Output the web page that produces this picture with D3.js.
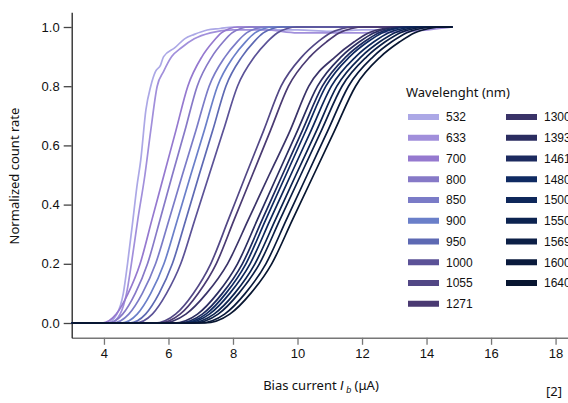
<!DOCTYPE html>
<html>
<head>
<meta charset="utf-8">
<script src="https://cdn.jsdelivr.net/npm/d3@7"></script>
<style>
  body { margin: 0; background: #fff; }
  svg { display: block; }
</style>
</head>
<body>
<div id="chart"></div>
<script>
// wavelengths (nm) and their line colours
const wavelengths = [532, 633, 700, 800, 850, 900, 950, 1000, 1055, 1271,
                     1300, 1393, 1461, 1480, 1500, 1550, 1569, 1600, 1640]
const colors = ['#aca8e6', '#a18fdb', '#9579cf', '#8679c7', '#7a7bc7', '#6a7fc9', '#5d69b3', '#5b5297', '#524785', '#4a3a72',
                '#3a3368', '#2b2d60', '#1c2a5f', '#0f2a62', '#0e275a', '#0c2350', '#0c1f46', '#0a1a3c', '#081631']

// normalized count rate levels, and the bias current (uA) where each curve reaches them
const levels = [0, 0.03, 0.1, 0.2, 0.35, 0.5, 0.65, 0.8, 0.9, 0.95, 0.98, 0.995, 1]
const x700  = [3.94, 4.38, 4.75, 5.12, 5.49, 5.86, 6.23, 6.60, 7.04, 7.38, 7.64, 7.90, 8.15]
const x800  = [4.12, 4.58, 4.97, 5.35, 5.74, 6.12, 6.51, 6.89, 7.35, 7.70, 7.97, 8.24, 8.51]
const x850  = [4.27, 4.77, 5.19, 5.60, 6.02, 6.43, 6.85, 7.26, 7.76, 8.13, 8.42, 8.71, 9.00]
const x900  = [4.53, 5.03, 5.45, 5.86, 6.28, 6.69, 7.11, 7.52, 8.02, 8.39, 8.68, 8.97, 9.26]
const x950  = [4.79, 5.29, 5.71, 6.12, 6.54, 6.95, 7.37, 7.78, 8.28, 8.65, 8.94, 9.23, 9.52]
const x1000 = [4.97, 5.50, 5.94, 6.38, 6.82, 7.26, 7.70, 8.14, 8.67, 9.06, 9.37, 9.68, 9.99]
const x1055 = [5.57, 6.22, 6.77, 7.31, 7.86, 8.40, 8.95, 9.49, 10.14, 10.63, 11.02, 11.40, 11.78]
const x1271 = [5.69, 6.36, 6.92, 7.48, 8.04, 8.60, 9.16, 9.72, 10.39, 10.90, 11.29, 11.68, 12.07]
const x1300 = [5.80, 6.54, 7.18, 7.83, 8.48, 9.12, 9.77, 10.35, 11.18, 11.76, 12.20, 12.67, 13.12]
const x1393 = [6.16, 6.90, 7.52, 8.14, 8.76, 9.38, 10.00, 10.62, 11.36, 11.92, 12.36, 12.79, 13.22]
const x1461 = [6.31, 7.05, 7.67, 8.29, 8.91, 9.53, 10.15, 10.77, 11.51, 12.07, 12.51, 12.94, 13.37]
const x1480 = [6.42, 7.16, 7.78, 8.40, 9.02, 9.64, 10.26, 10.88, 11.62, 12.18, 12.62, 13.05, 13.48]
const x1500 = [6.51, 7.27, 7.90, 8.53, 9.16, 9.79, 10.42, 11.05, 11.81, 12.37, 12.81, 13.26, 13.70]
const x1550 = [6.65, 7.41, 8.05, 8.68, 9.32, 9.95, 10.59, 11.22, 11.98, 12.55, 13.00, 13.44, 13.89]
const x1569 = [6.77, 7.54, 8.18, 8.82, 9.46, 10.10, 10.74, 11.38, 12.15, 12.72, 13.17, 13.62, 14.07]
const x1600 = [6.97, 7.74, 8.38, 9.02, 9.66, 10.30, 10.94, 11.58, 12.35, 12.92, 13.37, 13.82, 14.27]
const x1640 = [7.12, 7.90, 8.55, 9.20, 9.85, 10.50, 11.15, 11.80, 12.58, 13.17, 13.62, 14.08, 14.53]

// the two visible-light curves are noisy, so they are kept as (x, y) points
const p532 = [[4.10, 0], [4.40, 0.03], [4.60, 0.1], [4.73, 0.2], [4.90, 0.35], [5.02, 0.46], [5.14, 0.55],
              [5.30, 0.72], [5.45, 0.80], [5.60, 0.85], [5.75, 0.87], [5.85, 0.90], [6.20, 0.93], [6.50, 0.96],
              [6.80, 0.975], [7.20, 0.99], [7.60, 0.995], [8.00, 1.0], [8.60, 1.0], [9.00, 0.99], [10.0, 0.99],
              [11.0, 0.985], [12.0, 0.99], [13.0, 0.99], [14.0, 0.995]]
const p633 = [[4.20, 0], [4.50, 0.03], [4.70, 0.1], [4.85, 0.2], [5.05, 0.35], [5.27, 0.5], [5.45, 0.65],
              [5.65, 0.80], [5.85, 0.85], [6.10, 0.90], [6.40, 0.93], [6.80, 0.96], [7.30, 0.98], [8.00, 0.99],
              [9.00, 0.99], [10.0, 0.98], [12.0, 0.98], [13.5, 0.985]]

const xStart = 3, xEnd = 14.8
const xTicks = [4, 6, 8, 10, 12, 14, 16, 18]
const yTicks = [0, 0.2, 0.4, 0.6, 0.8, 1.0]

const crossings = [null, null, x700, x800, x850, x900, x950, x1000, x1055, x1271,
                   x1300, x1393, x1461, x1480, x1500, x1550, x1569, x1600, x1640]
const series = wavelengths.map((wl, i) => {
  let pts
  if (wl === 532) pts = p532
  else if (wl === 633) pts = p633
  else pts = crossings[i].map((x, j) => [x, levels[j]])
  return { wl, color: colors[i], pts: [[xStart, 0], ...pts, [xEnd, 1]] }
})

const width = 568, height = 403
const svg = d3.select('#chart').append('svg')
  .attr('width', width).attr('height', height)

const x = d3.scaleLinear().domain([3, 18.5]).range([71.7, 571.7])
const y = d3.scaleLinear().domain([-0.05, 1.05]).range([337.8, 12.2])

// axes
const xAxis = svg.append('g')
  .attr('transform', `translate(0,${y(-0.05)})`)
  .call(d3.axisBottom(x).tickValues(xTicks).tickSize(7).tickSizeOuter(0).tickPadding(4))
xAxis.select('.domain').attr('stroke', '#777').attr('stroke-width', 1.6)
xAxis.selectAll('.tick line').attr('stroke', '#777').attr('stroke-width', 1.3)
xAxis.selectAll('.tick text')
  .attr('font-family', 'Liberation Sans, Arial, sans-serif').attr('font-size', 13).attr('fill', '#111')

const yAxis = svg.append('g')
  .attr('transform', `translate(${x(3)},0)`)
  .call(d3.axisLeft(y).tickValues(yTicks).tickFormat(d3.format('.1f')).tickSize(8).tickSizeOuter(0).tickPadding(4))
yAxis.select('.domain').attr('stroke', '#222').attr('stroke-width', 1.3)
yAxis.selectAll('.tick line').attr('stroke', '#444').attr('stroke-width', 1.3)
yAxis.selectAll('.tick text')
  .attr('font-family', 'Liberation Sans, Arial, sans-serif').attr('font-size', 13).attr('fill', '#111')

// curves
const line = d3.line()
  .x(d => x(d[0]))
  .y(d => y(d[1]))
  .curve(d3.curveMonotoneX)

svg.append('g').selectAll('path')
  .data(series)
  .join('path')
  .attr('d', d => line(d.pts))
  .attr('fill', 'none')
  .attr('stroke', d => d.color)
  .attr('stroke-width', 1.7)
  .attr('stroke-linejoin', 'round')

// axis titles
svg.append('text')
  .attr('transform', 'translate(19,176) rotate(-90)')
  .attr('text-anchor', 'middle')
  .attr('font-family', 'Noto Sans, sans-serif').attr('font-size', 13).attr('fill', '#111')
  .text('Normalized count rate')

const xt = svg.append('text')
  .attr('x', 321).attr('y', 390)
  .attr('text-anchor', 'middle')
  .attr('font-family', 'Noto Sans, sans-serif').attr('font-size', 13).attr('fill', '#111')
xt.append('tspan').text('Bias current ')
xt.append('tspan').attr('font-family', 'Liberation Sans, sans-serif').attr('font-style', 'italic').text('I')
xt.append('tspan').attr('font-family', 'Liberation Sans, sans-serif').attr('font-style', 'italic')
  .attr('font-size', 9).attr('dy', 3).text(' b')
xt.append('tspan').attr('dy', -3).text(' (μA)')

svg.append('text')
  .attr('x', 562).attr('y', 396)
  .attr('text-anchor', 'end')
  .attr('font-family', 'Noto Sans, sans-serif').attr('font-size', 13).attr('fill', '#111')
  .text('[2]')

// legend
const legend = svg.append('g')
legend.append('text')
  .attr('x', 406).attr('y', 97)
  .attr('font-family', 'Noto Sans, sans-serif').attr('font-size', 13).attr('fill', '#111')
  .text('Wavelenght (nm)')

const rows = 10
const item = legend.selectAll('g.item')
  .data(series)
  .join('g')
  .attr('class', 'item')
  .attr('transform', (d, i) => `translate(${i < rows ? 408 : 506},${117 + (i % rows) * 20.75})`)
item.append('rect')
  .attr('x', 0).attr('y', -3).attr('width', 31).attr('height', 6)
  .attr('fill', d => d.color)
item.append('text')
  .attr('x', 38).attr('y', 0).attr('dy', '0.36em')
  .attr('font-family', 'Liberation Sans, Arial, sans-serif').attr('font-size', 12).attr('fill', '#111')
  .text(d => d.wl)
</script>
</body>
</html>
